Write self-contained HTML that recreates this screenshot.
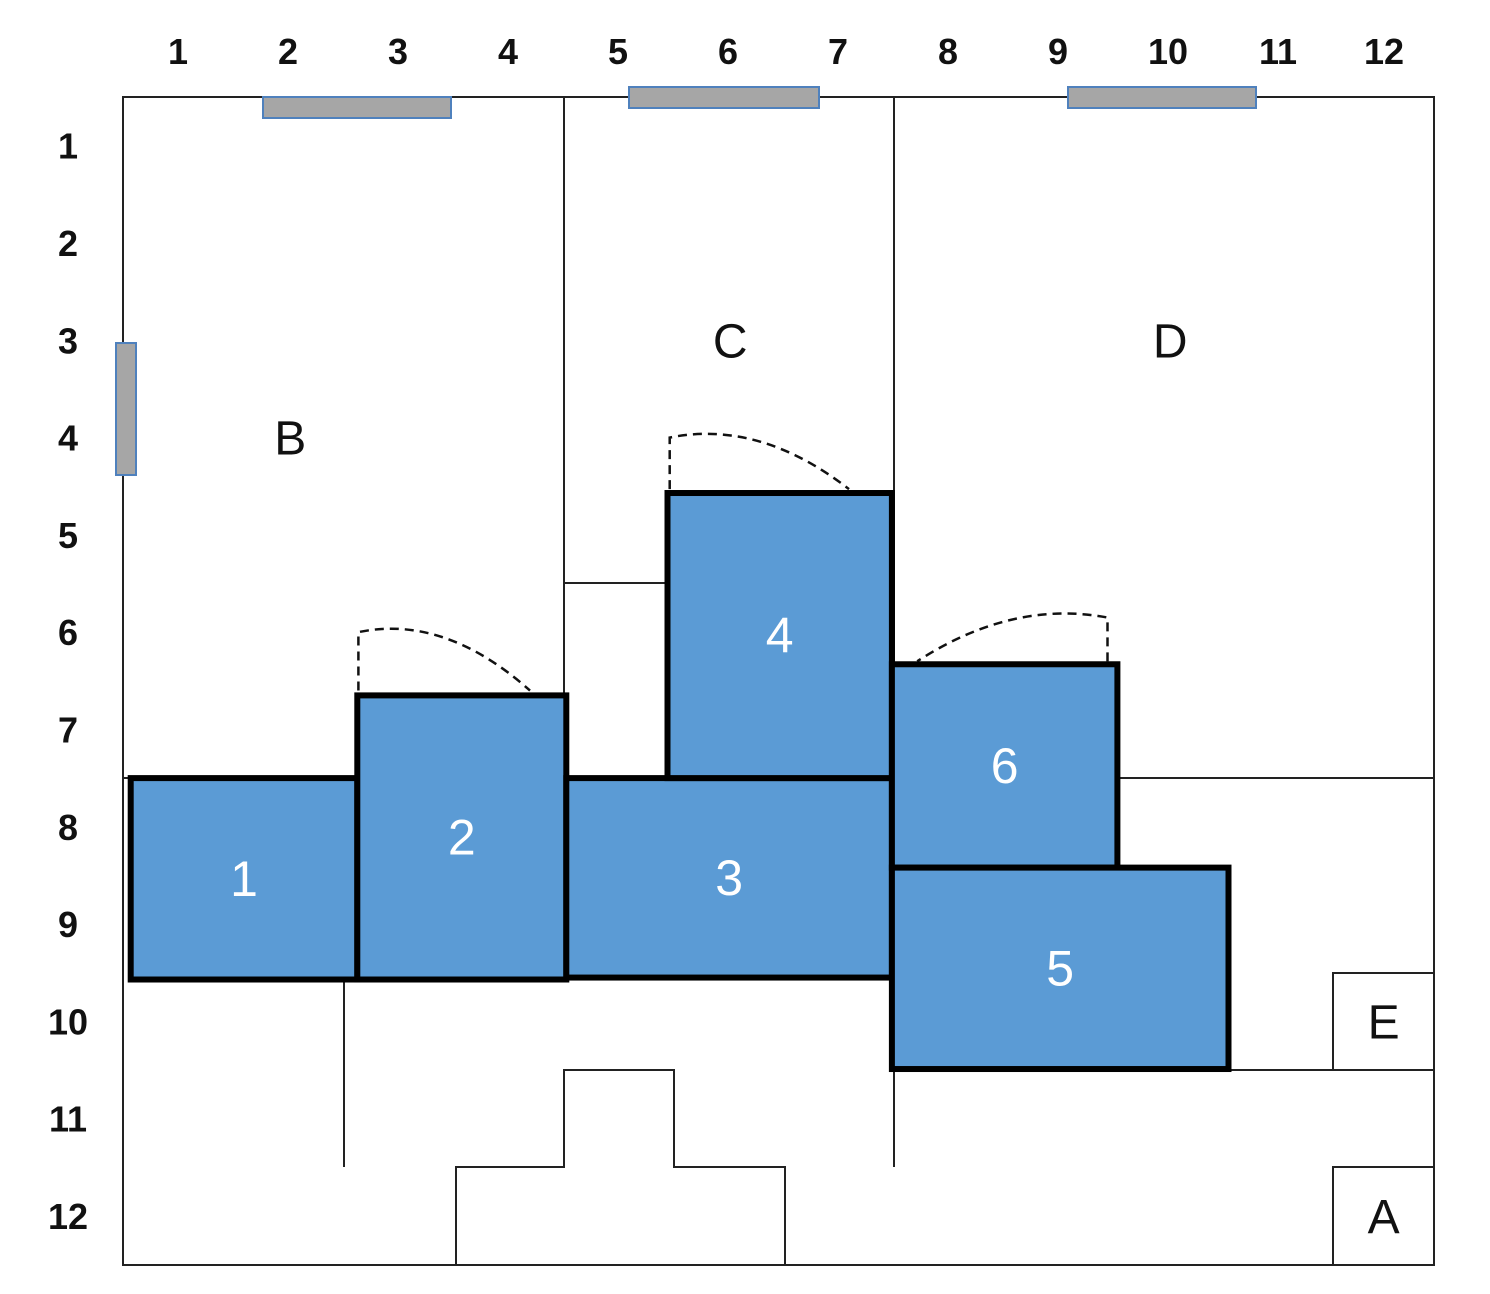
<!DOCTYPE html>
<html><head><meta charset="utf-8">
<style>
html,body{margin:0;padding:0;background:#fff;}
svg{display:block;}
</style></head>
<body>
<svg id="plan" width="1490" height="1294" viewBox="0 0 1490 1294" xmlns="http://www.w3.org/2000/svg" font-family="Liberation Sans, sans-serif">
  <g id="walls" fill="none" stroke="#222" stroke-width="2">
    <rect x="123" y="97" width="1311" height="1168"/>
    <line x1="564" y1="97" x2="564" y2="695"/>
    <line x1="564" y1="583" x2="666" y2="583"/>
    <line x1="894" y1="97" x2="894" y2="778"/>
    <line x1="123" y1="778" x2="133" y2="778"/>
    <line x1="1118" y1="778" x2="1434" y2="778"/>
    <line x1="344" y1="980" x2="344" y2="1167"/>
    <line x1="894" y1="1068" x2="894" y2="1167"/>
    <line x1="1228" y1="1070" x2="1434" y2="1070"/>
    <rect x="1333" y="973" width="101" height="97"/>
    <rect x="1333" y="1167" width="101" height="98"/>
    <polyline points="456,1265 456,1167 564,1167 564,1070 674,1070 674,1167 785,1167 785,1265"/>
  </g>
  <g id="windows" fill="#a6a6a6" stroke="#4f81bd" stroke-width="2">
    <rect x="263" y="97" width="188" height="21"/>
    <rect x="629" y="87" width="190" height="21"/>
    <rect x="1068" y="87" width="188" height="21"/>
    <rect x="116" y="343" width="20" height="132"/>
  </g>
  <g id="arcs"></g>
  <g id="blocks"></g>
  <g id="labels"></g>
</svg>
<script>
// grid units: column c, row r (0 = left/top wall)
const colTicks = ["1","2","3","4","5","6","7","8","9","10","11","12"];
const rowTicks = ["1","2","3","4","5","6","7","8","9","10","11","12"];
const blockIds = ["1","2","3","4","6","5"];
const blockX0 = [0.07, 2.13, 4.03, 4.95, 6.99, 6.99];
const blockX1 = [2.13, 4.03, 6.99, 6.99, 9.04, 10.05];
const blockY0 = [7.0, 6.15, 7.0, 4.07, 5.83, 7.92];
const blockY1 = [9.07, 9.07, 9.05, 7.0, 7.92, 9.99];
const roomNames = ["B","C","D","E","A"];
const roomCol = [1.52, 5.52, 9.52, 11.46, 11.46];
const roomRow = [3.5, 2.5, 2.5, 9.5, 11.5];
const NS = "http://www.w3.org/2000/svg";
const X = c => 123 + 110 * c;
const Y = r => 97 + 97.3 * r;
function mk(tag, attrs, parent) {
  const e = document.createElementNS(NS, tag);
  for (const k in attrs) e.setAttribute(k, attrs[k]);
  parent.appendChild(e);
  return e;
}
const labels = document.getElementById('labels');
colTicks.forEach((t, i) => {
  const e = mk('text', {x: X(i + 0.5) + (i === 11 ? -4 : 0), y: 64, 'text-anchor': 'middle', 'font-size': 36, 'font-weight': 'bold', fill: '#111'}, labels);
  
  
  e.textContent = t;
});
rowTicks.forEach((t, i) => {
  const e = mk('text', {x: 68, y: Y(i + 0.5) + 13, 'text-anchor': 'middle', 'font-size': 36, 'font-weight': 'bold', fill: '#111'}, labels);
  
  
  e.textContent = t;
});
roomNames.forEach((t, i) => {
  const e = mk('text', {x: X(roomCol[i]), y: Y(roomRow[i]) + 17, 'text-anchor': 'middle', 'font-size': 48, fill: '#111'}, labels);
  
  
  e.textContent = t;
});
const blocks = document.getElementById('blocks');
blockIds.forEach((id, i) => {
  const x0 = X(blockX0[i]), x1 = X(blockX1[i]), y0 = Y(blockY0[i]), y1 = Y(blockY1[i]);
  const r = mk('rect', {x: x0, y: y0, width: x1 - x0, height: y1 - y0, fill: '#5b9bd5', stroke: '#000', 'stroke-width': 6}, blocks);
  
  
  const t = mk('text', {x: (x0 + x1) / 2, y: (y0 + y1) / 2 + 17, 'text-anchor': 'middle', 'font-size': 50, fill: '#fff'}, blocks);
  
  
  t.textContent = id;
});
// door arcs in grid units
const arcs = document.getElementById('arcs');
const arcPaths = [
  [[2.14, 6.1], [2.14, 5.5], [3.7, 6.1]],
  [[4.97, 4.03], [4.97, 3.5], [6.6, 4.03]],
  [[8.95, 5.8], [8.95, 5.35], [7.22, 5.8]]
];
arcPaths.forEach(p => {
  const [a, b, c] = p;
  const d = `M${X(a[0])},${Y(a[1])} L${X(b[0])},${Y(b[1])} Q${X((b[0] + c[0]) / 2)},${Y(b[1]) - 18} ${X(c[0])},${Y(c[1])}`;
  const e = mk('path', {d: d, fill: 'none', stroke: '#111', 'stroke-width': 2.5, 'stroke-dasharray': '9,6'}, arcs);
  
  
});
</script>
</body></html>
